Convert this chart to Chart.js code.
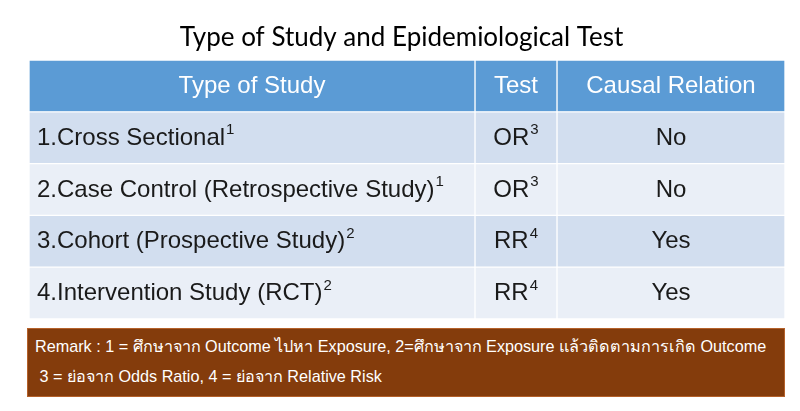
<!DOCTYPE html>
<html>
<head>
<meta charset="utf-8">
<script src="https://cdn.jsdelivr.net/npm/chart.js@4"></script>
<style>
  html, body { margin: 0; padding: 0; background: #fff; }
  #wrap { position: relative; width: 800px; height: 411px; overflow: hidden; }
  #remark {
    position: absolute; left: 27px; top: 328px; width: 758px; height: 69px;
    box-sizing: border-box; background: #843C0C; border: 1px solid #B5612A;
    color: #fff; font-family: 'Liberation Sans', Arial, sans-serif; font-size: 16.2px;
    line-height: 30px; padding: 2px 0 0 7px; white-space: pre;
  }
</style>
</head>
<body>
<div id="wrap">
  <canvas id="c" width="800" height="411"></canvas>
  <div id="remark"></div>
</div>
<script>
// ---- data ----
const titleText = 'Type of Study and Epidemiological Test';
const headers = ['Type of Study', 'Test', 'Causal Relation'];
const studyTypes = ['1.Cross Sectional', '2.Case Control (Retrospective Study)', '3.Cohort (Prospective Study)', '4.Intervention Study (RCT)'];
const studyNotes = ['1', '1', '2', '2'];
const tests = ['OR', 'OR', 'RR', 'RR'];
const testNotes = ['3', '3', '4', '4'];
const causal = ['No', 'No', 'Yes', 'Yes'];
const remarkLines = [
  'Remark : 1 = ศึกษาจาก Outcome ไปหา Exposure, 2=ศึกษาจาก Exposure แล้วติดตามการเกิด Outcome',
  ' 3 = ย่อจาก Odds Ratio, 4 = ย่อจาก Relative Risk'
];

// ---- layout / style (not data) ----
const colSpan = [446, 82, 228];
const headerColor = '#5B9BD5';
const rowColors = ['#D2DEEF', '#EAEFF7'];
const mainFont = "24px 'Liberation Sans', Arial, sans-serif";
const supFont = "15px 'Liberation Sans', Arial, sans-serif";
const titleFont = "26px Lato, 'Open Sans', sans-serif";

document.getElementById('remark').textContent = remarkLines.join('\n');

const rowLabels = ['header'].concat(studyTypes);
const cellText = [
  [headers[0]].concat(studyTypes),
  [headers[1]].concat(tests),
  [headers[2]].concat(causal)
];
const cellSup = [
  [''].concat(studyNotes),
  [''].concat(testNotes),
  [''].concat(causal.map(() => ''))
];

const datasets = colSpan.map((w, ci) => ({
  label: headers[ci],
  data: rowLabels.map(() => w),
  backgroundColor: rowLabels.map((_, ri) => ri === 0 ? headerColor : rowColors[(ri - 1) % 2]),
  borderColor: '#ffffff',
  borderWidth: 1,
  borderSkipped: false,
  categoryPercentage: 1,
  barPercentage: 1
}));

const textPlugin = {
  id: 'cellText',
  afterDatasetsDraw(chart) {
    const ctx = chart.ctx;
    ctx.save();
    // title
    ctx.font = titleFont;
    ctx.fillStyle = '#000000';
    ctx.textAlign = 'center';
    ctx.textBaseline = 'alphabetic';
    ctx.fillText(titleText, 401.5, 46);
    chart.data.datasets.forEach((ds, ci) => {
      const meta = chart.getDatasetMeta(ci);
      meta.data.forEach((el, ri) => {
        const p = el.getProps(['x', 'base', 'y', 'height'], true);
        const left = Math.min(p.x, p.base), right = Math.max(p.x, p.base);
        const main = cellText[ci][ri];
        const sup = cellSup[ci][ri];
        ctx.font = mainFont;
        const mw = ctx.measureText(main).width;
        ctx.font = supFont;
        const sw = sup ? ctx.measureText(sup).width + 1 : 0;
        const total = mw + sw;
        let x0;
        if (ci === 0 && ri > 0) x0 = left + 8;
        else x0 = (left + right) / 2 - total / 2;
        const baseline = p.y + (ri === 0 ? 7.5 : 7);
        ctx.fillStyle = ri === 0 ? '#ffffff' : '#1a1a1a';
        ctx.textAlign = 'left';
        ctx.textBaseline = 'alphabetic';
        ctx.font = mainFont;
        ctx.fillText(main, x0, baseline);
        if (sup) {
          ctx.font = supFont;
          ctx.fillText(sup, x0 + mw + 1, baseline - 10.5);
        }
      });
    });
    ctx.restore();
  }
};

new Chart(document.getElementById('c'), {
  type: 'bar',
  data: { labels: rowLabels, datasets: datasets },
  options: {
    indexAxis: 'y',
    responsive: false,
    animation: false,
    layout: { padding: { left: 29, right: 15, top: 60, bottom: 92 } },
    plugins: {
      legend: { display: false },
      tooltip: { enabled: false },
      title: { display: false }
    },
    scales: {
      x: { stacked: true, display: false, min: 0, max: colSpan.reduce((a, b) => a + b, 0) },
      y: { stacked: true, display: false }
    }
  },
  plugins: [textPlugin]
});
</script>
</body>
</html>
